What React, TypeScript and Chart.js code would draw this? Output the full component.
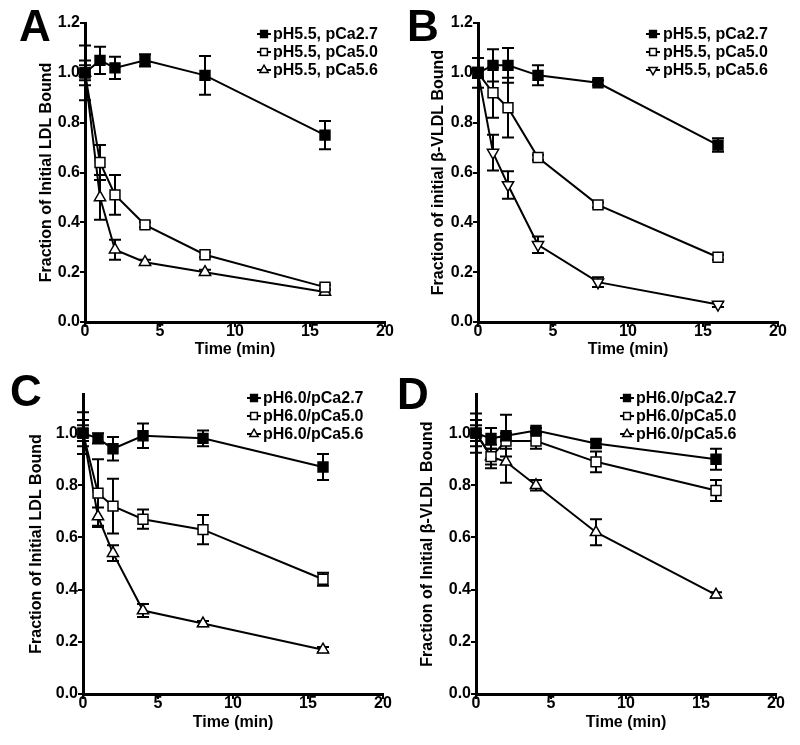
import React, { useEffect, useRef } from 'react';
import { Chart, registerables } from 'chart.js';

Chart.register(...registerables);

// ---------- data ----------
const TIME_MIN = [0, 1, 2, 4, 8, 16];
const X_TICKS = [0, 5, 10, 15, 20];
const Y_TICKS_AB = [0, 0.2, 0.4, 0.6, 0.8, 1.0, 1.2];
const Y_TICKS_CD = [0, 0.2, 0.4, 0.6, 0.8, 1.0];

const A_LABELS = ['pH5.5, pCa2.7', 'pH5.5, pCa5.0', 'pH5.5, pCa5.6'];
const A_PCA27 = [1.0, 1.05, 1.02, 1.05, 0.99, 0.75];
const A_PCA27_ERR = [0.11, 0.055, 0.045, 0.025, 0.078, 0.057];
const A_PCA50 = [1.0, 0.64, 0.51, 0.39, 0.27, 0.14];
const A_PCA50_ERR = [0.05, 0.07, 0.08, 0.01, 0.01, 0.01];
const A_PCA56 = [1.0, 0.5, 0.29, 0.24, 0.2, 0.12];
const A_PCA56_ERR = [0.03, 0.09, 0.04, 0.01, 0.01, 0.01];

const B_LABELS = ['pH5.5, pCa2.7', 'pH5.5, pCa5.0', 'pH5.5, pCa5.6'];
const B_PCA27 = [1.0, 1.03, 1.03, 0.99, 0.96, 0.71];
const B_PCA27_ERR = [0.06, 0.065, 0.07, 0.04, 0.01, 0.027];
const B_PCA50 = [1.0, 0.92, 0.86, 0.66, 0.47, 0.26];
const B_PCA50_ERR = [0.02, 0.1, 0.12, 0.01, 0.01, 0.01];
const B_PCA56 = [1.0, 0.68, 0.55, 0.31, 0.16, 0.07];
const B_PCA56_ERR = [0.02, 0.072, 0.055, 0.033, 0.02, 0.01];

const C_LABELS = ['pH6.0/pCa2.7', 'pH6.0/pCa5.0', 'pH6.0/pCa5.6'];
const C_PCA27 = [1.0, 0.98, 0.94, 0.99, 0.98, 0.87];
const C_PCA27_ERR = [0.08, 0.02, 0.045, 0.047, 0.03, 0.05];
const C_PCA50 = [1.0, 0.77, 0.72, 0.67, 0.63, 0.44];
const C_PCA50_ERR = [0.05, 0.13, 0.105, 0.037, 0.056, 0.025];
const C_PCA56 = [1.0, 0.68, 0.54, 0.32, 0.27, 0.17];
const C_PCA56_ERR = [0.03, 0.035, 0.03, 0.025, 0.01, 0.01];

const D_LABELS = ['pH6.0/pCa2.7', 'pH6.0/pCa5.0', 'pH6.0/pCa5.6'];
const D_PCA27 = [1.0, 0.98, 0.99, 1.01, 0.96, 0.9];
const D_PCA27_ERR = [0.075, 0.04, 0.08, 0.01, 0.015, 0.04];
const D_PCA50 = [1.0, 0.91, 0.97, 0.97, 0.89, 0.78];
const D_PCA50_ERR = [0.05, 0.045, 0.03, 0.03, 0.04, 0.04];
const D_PCA56 = [1.0, 0.91, 0.89, 0.8, 0.62, 0.38];
const D_PCA56_ERR = [0.03, 0.03, 0.08, 0.02, 0.05, 0.01];

// ---------- style ----------
const FONT_FAMILY = "'Liberation Sans', Arial, Helvetica, sans-serif";

type PanelCfg = {
  letter: string;
  left: number;
  top: number;
  width: number;
  height: number;
  yTitle: string;
  yMax: number;
  yTicks: number[];
  labels: string[];
  series: number[][];
  errors: number[][];
  inverted: boolean;
  padding: { left: number; right: number; top: number; bottom: number };
  yWidth: number;
  xHeight: number;
  legend: { x: number; textX: number; ys: number[] };
  letterPos: { left: number; top: number };
};

const PANELS: PanelCfg[] = [
  {
    letter: 'A', left: 0, top: 0, width: 400, height: 372,
    yTitle: 'Fraction of Initial LDL Bound', yMax: 1.2, yTicks: Y_TICKS_AB,
    labels: A_LABELS, series: [A_PCA27, A_PCA50, A_PCA56], errors: [A_PCA27_ERR, A_PCA50_ERR, A_PCA56_ERR],
    inverted: false,
    padding: { left: 37.4, right: 15, top: 23, bottom: 12.4 }, yWidth: 47.6, xHeight: 37.6,
    legend: { x: 264, textX: 273, ys: [34, 52, 70] },
    letterPos: { left: 19, top: 4 },
  },
  {
    letter: 'B', left: 400, top: 0, width: 400, height: 372,
    yTitle: 'Fraction of initial \u03b2-VLDL Bound', yMax: 1.2, yTicks: Y_TICKS_AB,
    labels: B_LABELS, series: [B_PCA27, B_PCA50, B_PCA56], errors: [B_PCA27_ERR, B_PCA50_ERR, B_PCA56_ERR],
    inverted: true,
    padding: { left: 29.4, right: 22, top: 23, bottom: 12.4 }, yWidth: 48.6, xHeight: 37.6,
    legend: { x: 253, textX: 263, ys: [34, 52, 70] },
    letterPos: { left: 407, top: 4 },
  },
  {
    letter: 'C', left: 0, top: 372, width: 400, height: 373,
    yTitle: 'Fraction of Initial LDL Bound', yMax: 1.15, yTicks: Y_TICKS_CD,
    labels: C_LABELS, series: [C_PCA27, C_PCA50, C_PCA56], errors: [C_PCA27_ERR, C_PCA50_ERR, C_PCA56_ERR],
    inverted: false,
    padding: { left: 27.4, right: 17, top: 22, bottom: 12.4 }, yWidth: 55.6, xHeight: 38.6,
    legend: { x: 254, textX: 263, ys: [26, 44, 62] },
    letterPos: { left: 10, top: 369 },
  },
  {
    letter: 'D', left: 400, top: 372, width: 400, height: 373,
    yTitle: 'Fraction of Initial \u03b2-VLDL Bound', yMax: 1.15, yTicks: Y_TICKS_CD,
    labels: D_LABELS, series: [D_PCA27, D_PCA50, D_PCA56], errors: [D_PCA27_ERR, D_PCA50_ERR, D_PCA56_ERR],
    inverted: false,
    padding: { left: 18.4, right: 24, top: 22, bottom: 12.4 }, yWidth: 57.6, xHeight: 38.6,
    legend: { x: 227, textX: 236, ys: [26, 44, 62] },
    letterPos: { left: 397, top: 372 },
  },
];

function markerPath(ctx: CanvasRenderingContext2D, style: string, rotation: number, r: number, x: number, y: number) {
  ctx.beginPath();
  if (style === 'rect') {
    const s = Math.SQRT1_2 * r;
    ctx.rect(x - s, y - s, 2 * s, 2 * s);
  } else {
    let rad = (rotation * Math.PI) / 180;
    ctx.moveTo(x + Math.sin(rad) * r, y - Math.cos(rad) * r);
    rad += (2 * Math.PI) / 3;
    ctx.lineTo(x + Math.sin(rad) * r, y - Math.cos(rad) * r);
    rad += (2 * Math.PI) / 3;
    ctx.lineTo(x + Math.sin(rad) * r, y - Math.cos(rad) * r);
    ctx.closePath();
  }
}

const errorBarPlugin = {
  id: 'errorBars',
  beforeDatasetsDraw(chart: any) {
    const ctx = chart.ctx;
    const yScale = chart.scales.y;
    ctx.save();
    ctx.strokeStyle = '#000';
    ctx.lineWidth = 2;
    chart.data.datasets.forEach((ds: any, di: number) => {
      const meta = chart.getDatasetMeta(di);
      meta.data.forEach((pt: any, i: number) => {
        const v = ds.data[i].y;
        const e = ds.errors[i];
        const x = pt.x;
        const yt = yScale.getPixelForValue(v + e);
        const yb = yScale.getPixelForValue(v - e);
        ctx.beginPath();
        ctx.moveTo(x, yt);
        ctx.lineTo(x, yb);
        ctx.moveTo(x - 6, yt);
        ctx.lineTo(x + 6, yt);
        ctx.moveTo(x - 6, yb);
        ctx.lineTo(x + 6, yb);
        ctx.stroke();
      });
    });
    ctx.restore();
  },
};

const legendPlugin = {
  id: 'customLegend',
  afterDraw(chart: any, _args: any, opts: any) {
    const ctx = chart.ctx;
    ctx.save();
    chart.data.datasets.forEach((ds: any, i: number) => {
      const y = opts.ys[i];
      ctx.strokeStyle = '#000';
      ctx.lineWidth = 2;
      ctx.beginPath();
      ctx.moveTo(opts.x - 7, y);
      ctx.lineTo(opts.x + 7, y);
      ctx.stroke();
      const r = ds.pointStyle === 'rect' ? 4.8 : 4.8;
      markerPath(ctx, ds.pointStyle, ds.pointRotation || 0, r, opts.x, y);
      ctx.fillStyle = ds.pointBackgroundColor;
      ctx.fill();
      ctx.lineWidth = 1.5;
      ctx.stroke();
      ctx.fillStyle = '#000';
      ctx.font = `bold 16px ${FONT_FAMILY}`;
      ctx.textBaseline = 'middle';
      ctx.textAlign = 'left';
      ctx.fillText(ds.label, opts.textX, y + 0.5);
    });
    ctx.restore();
  },
};

function Panel({ cfg }: { cfg: PanelCfg }) {
  const ref = useRef<HTMLCanvasElement | null>(null);
  useEffect(() => {
    if (!ref.current) return;
    const styles = [
      { pointStyle: 'rect', radius: 7, fill: '#000', rot: 0 },
      { pointStyle: 'rect', radius: 7, fill: '#fff', rot: 0 },
      { pointStyle: 'triangle', radius: 6.5, fill: '#fff', rot: cfg.inverted ? 180 : 0 },
    ];
    const datasets = cfg.series.map((vals, si) => ({
      label: cfg.labels[si],
      data: TIME_MIN.map((t, i) => ({ x: t, y: vals[i] })),
      errors: cfg.errors[si],
      borderColor: '#000',
      borderWidth: 2,
      tension: 0,
      fill: false,
      pointStyle: styles[si].pointStyle,
      pointRadius: styles[si].radius,
      pointRotation: styles[si].rot,
      pointBackgroundColor: styles[si].fill,
      pointBorderColor: '#000',
      pointBorderWidth: 1.5,
      clip: false as any,
    }));
    const tickFont = { family: FONT_FAMILY, size: 16, weight: 'bold' as const };
    const chart = new Chart(ref.current, {
      type: 'line',
      data: { datasets: datasets as any },
      plugins: [errorBarPlugin, legendPlugin],
      options: {
        animation: false,
        responsive: false,
        maintainAspectRatio: false,
        layout: { padding: cfg.padding },
        plugins: {
          legend: { display: false },
          tooltip: { enabled: false },
          customLegend: cfg.legend,
        } as any,
        scales: {
          x: {
            type: 'linear',
            min: 0,
            max: 20,
            afterBuildTicks: (scale: any) => {
              scale.ticks = X_TICKS.map((v) => ({ value: v }));
            },
            afterFit: (scale: any) => {
              scale.height = cfg.xHeight;
            },
            ticks: {
              color: '#000',
              font: tickFont,
              padding: -5,
              maxRotation: 0,
              autoSkip: false,
              callback: (v: any) => String(v),
            },
            grid: {
              display: true,
              drawOnChartArea: false,
              drawTicks: true,
              tickLength: 5,
              color: '#000',
              tickColor: '#000',
              lineWidth: 2,
            },
            border: { display: true, color: '#000', width: 3 },
            title: {
              display: true,
              text: 'Time (min)',
              color: '#000',
              font: tickFont,
              padding: 0,
            },
          },
          y: {
            type: 'linear',
            min: 0,
            max: cfg.yMax,
            afterBuildTicks: (scale: any) => {
              scale.ticks = cfg.yTicks.map((v) => ({ value: v }));
            },
            afterFit: (scale: any) => {
              scale.width = cfg.yWidth;
            },
            ticks: {
              color: '#000',
              font: tickFont,
              padding: 0,
              autoSkip: false,
              callback: (v: any) => Number(v).toFixed(1),
            },
            grid: {
              display: true,
              drawOnChartArea: false,
              drawTicks: true,
              tickLength: 5,
              color: '#000',
              tickColor: '#000',
              lineWidth: 2,
            },
            border: { display: true, color: '#000', width: 3 },
            title: {
              display: true,
              text: cfg.yTitle,
              color: '#000',
              font: tickFont,
              padding: 0,
            },
          },
        },
      } as any,
    });
    return () => chart.destroy();
  }, [cfg]);
  return (
    <canvas
      ref={ref}
      width={cfg.width}
      height={cfg.height}
      style={{ position: 'absolute', left: cfg.left, top: cfg.top, width: cfg.width, height: cfg.height }}
    />
  );
}

export default function App() {
  return (
    <div style={{ position: 'absolute', left: 0, top: 0, width: 800, height: 745, background: '#fff', overflow: 'hidden' }}>
      {PANELS.map((p) => (
        <Panel key={p.letter} cfg={p} />
      ))}
      {PANELS.map((p) => (
        <div
          key={'L' + p.letter}
          style={{
            position: 'absolute',
            left: p.letterPos.left,
            top: p.letterPos.top,
            fontFamily: FONT_FAMILY,
            fontWeight: 'bold',
            fontSize: 44,
            lineHeight: '44px',
            color: '#000',
          }}
        >
          {p.letter}
        </div>
      ))}
    </div>
  );
}
